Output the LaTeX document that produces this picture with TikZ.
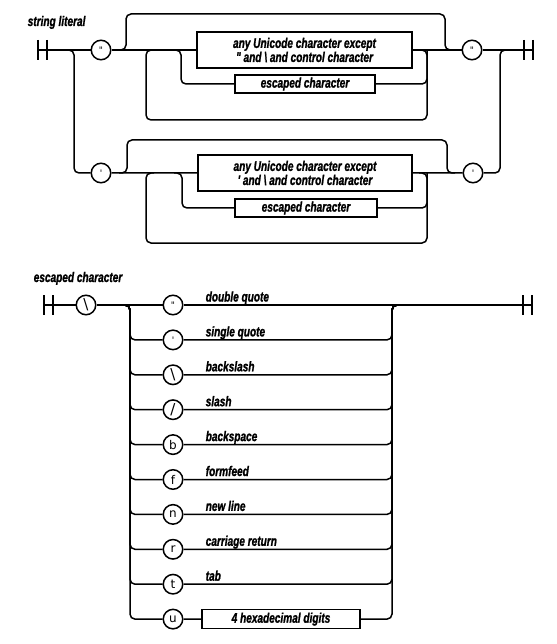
\documentclass[tikz,border=0pt]{standalone}
\usepackage{fontspec}
\newfontfamily\railfont[FakeStretch=0.72,FakeBold=1.2]{Liberation Sans Bold Italic}
\newfontfamily\glyphfont{DejaVu Sans}

\begin{document}
\begin{tikzpicture}[x=1pt,y=-1pt,line width=1.5pt,rounded corners=5pt]
\tikzstyle{every node}+=[inner sep=0pt]
\tikzstyle{term}=[draw,circle,minimum size=19.5pt,font=\glyphfont\fontsize{12}{12}\selectfont]
\tikzstyle{nonterm}=[draw,sharp corners,align=center,font=\railfont\fontsize{14}{11.5}\selectfont]
\tikzstyle{caption}=[anchor=base west,font=\railfont\fontsize{14}{14}\selectfont]
\tikzstyle{endbar}=[sharp corners]
\useasboundingbox (0,0) rectangle (556,644);

\node[caption] (sl) at (27,26) {string literal};
\draw[endbar] (38,40) -- (38,60) (47,40) -- (47,60);
\draw[endbar] (524,40) -- (524,60) (533,40) -- (533,60);
\coordinate (a0) at (38,50);
\coordinate (a1) at (74,50);
\coordinate (a2) at (126,50);
\coordinate (a3) at (146,50);
\coordinate (a4) at (181,50);
\coordinate (a5) at (427,50);
\coordinate (a6) at (445,50);
\coordinate (a7) at (500,50);
\coordinate (a9) at (533,50);
\coordinate (atop) at (0,14);
\coordinate (abot) at (0,120);
\node[term] (dqa) at (101,50) {\fontsize{9}{9}\selectfont"};
\node[nonterm,minimum width=215pt,minimum height=36pt] (ua) at (304.5,50) {any Unicode character except\\" and \textbackslash{} and control character};
\node[nonterm,minimum width=140pt,minimum height=18pt] (ea) at (305,84) {escaped character};
\node[term] (dqb) at (472,50) {\fontsize{9}{9}\selectfont"};
\draw (a0) -- (dqa) -- (ua) -- (dqb) -- (a9);
\draw ([xshift=-8pt]a2) -| (a2 |- atop) -| (a6) -- ([xshift=8pt]a6);
\draw ([xshift=8pt]a3) -| (a3 |- abot) -| (a5) -- ([xshift=-8pt]a5);
\draw ([xshift=-8pt]a4) -| (a4 |- ea) -- (ea);
\draw (ea) -| (a5);

\coordinate (b2) at (127,173);
\coordinate (b3) at (146,173);
\coordinate (b4) at (182,173);
\coordinate (b5) at (427,173);
\coordinate (b6) at (447,173);
\coordinate (btop) at (0,140);
\coordinate (bbot) at (0,243);
\node[term] (sqa) at (101,173) {\fontsize{9}{9}\selectfont'};
\node[nonterm,minimum width=214pt,minimum height=36pt] (ub) at (305,173) {any Unicode character except\\' and \textbackslash{} and control character};
\node[nonterm,minimum width=142pt,minimum height=18pt] (eb) at (306,208) {escaped character};
\node[term] (sqb) at (473,173) {\fontsize{9}{9}\selectfont'};
\draw ([xshift=-8pt]a1) -| (a1 |- sqa) -- (sqa) -- (ub) -- (sqb) -| (a7) -- ([xshift=8pt]a7);
\draw ([xshift=-8pt]b2) -| (b2 |- btop) -| (b6) -- ([xshift=8pt]b6);
\draw ([xshift=8pt]b3) -| (b3 |- bbot) -| (b5) -- ([xshift=-8pt]b5);
\draw ([xshift=-8pt]b4) -| (b4 |- eb) -- (eb);
\draw (eb) -| (b5);

\node[caption] (ec) at (33,282) {escaped character};
\draw[endbar] (44,295) -- (44,315) (53,295) -- (53,315);
\draw[endbar] (523,295) -- (523,315) (532,295) -- (532,315);
\coordinate (c0) at (44,305);
\coordinate (c1) at (130,305);
\coordinate (c2) at (392,305);
\coordinate (c9) at (532,305);
\node[term] (bsl) at (86,305) {\fontsize{15}{15}\selectfont\textbackslash};
\foreach \i/\ch/\txt in {0/{\fontsize{9}{9}\selectfont"}/double quote,
                          1/{\fontsize{9}{9}\selectfont'}/single quote,
                          2/{\fontsize{15}{15}\selectfont\textbackslash}/backslash,
                          3/{\fontsize{15}{15}\selectfont/}/slash,
                          4/b/backspace,
                          5/f/formfeed,
                          6/n/new line,
                          7/r/carriage return,
                          8/t/tab}
{
\node[term] (e\i) at (173,305+34.9*\i) {\ch};
\node[caption] (t\i) at (205,301.5+34.9*\i) {\txt};
}
\node[term] (e9) at (173,619.1) {u};
\node[nonterm,minimum width=158pt,minimum height=19pt] (hex) at (281,619.1) {4 hexadecimal digits};
\draw (c0) -- (bsl) -- (e0) -- (c9);
\foreach \i in {1,...,9}
  \draw ([xshift=-8pt]c1) -| (c1 |- e\i) -- (e\i);
\foreach \i in {1,...,8}
  \draw (e\i) -| (c2) -- ([xshift=8pt]c2);
\draw (e9) -- (hex) -| (c2) -- ([xshift=8pt]c2);
\end{tikzpicture}
\end{document}
